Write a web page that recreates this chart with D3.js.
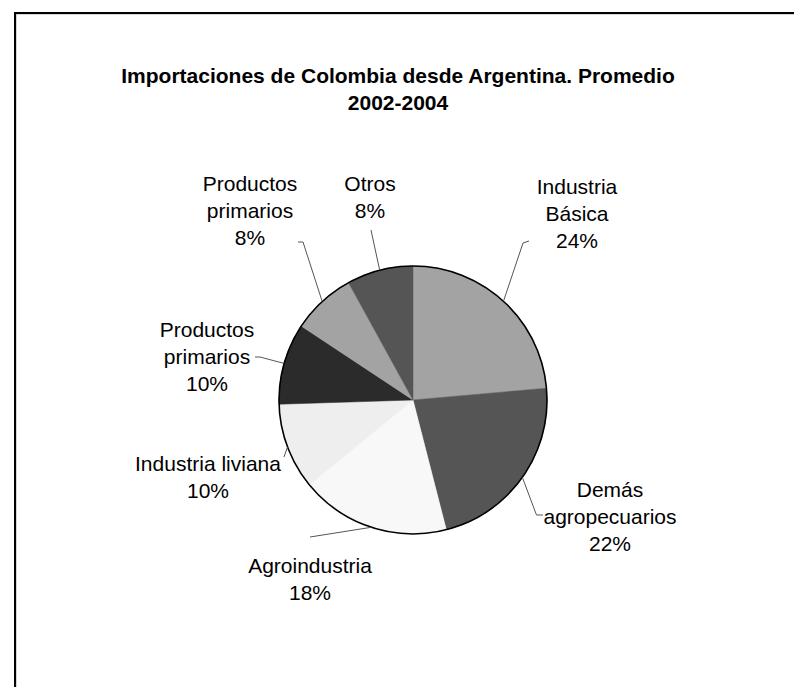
<!DOCTYPE html>
<html><head><meta charset="utf-8">
<script src="https://cdn.jsdelivr.net/npm/d3@7"></script>
<style>body{margin:0;background:#fff}svg{display:block}</style>
</head><body>
<script>
const title = ["Importaciones de Colombia desde Argentina. Promedio", "2002-2004"];
const categories = ["Industria Básica", "Demás agropecuarios", "Agroindustria", "Industria liviana", "Productos primarios", "Productos primarios", "Otros"];
const values = [23.6, 22.4, 18.1, 10.4, 9.8, 7.7, 8.0];

const palette = ["#a3a3a3", "#555555", "#f8f8f8", "#eeeeee", "#2b2b2b", "#a3a3a3", "#555555"];
// label layout: line breaks, anchor (center x, first baseline), leader end points
const labelLayout = [
  {lines: ["Industria", "Básica"], x: 577, y: 194, leader: [[523, 243], [529, 241]]},
  {lines: ["Demás", "agropecuarios"], x: 610, y: 497, leader: [[536.5, 515], [543, 515]]},
  {lines: ["Agroindustria"], x: 310, y: 573, leader: [[310, 537]]},
  {lines: ["Industria liviana"], x: 208, y: 471, leader: [[284, 457]]},
  {lines: ["Productos", "primarios"], x: 207, y: 337, leader: [[260, 357], [255, 357]]},
  {lines: ["Productos", "primarios"], x: 250, y: 191, leader: [[303, 242], [298, 242]]},
  {lines: ["Otros"], x: 370, y: 191, leader: [[371, 230]]}
];

const W = 794, H = 687;
const svg = d3.select("body").append("svg").attr("width", W).attr("height", H);

// frame
svg.append("path").attr("d", `M16,${H+5} L16,14 L${W+5},14`).attr("fill", "none").attr("stroke", "#aaa").attr("stroke-width", 1);
svg.append("path").attr("d", `M15,${H+5} L15,13 L${W+5},13`).attr("fill", "none").attr("stroke", "#000").attr("stroke-width", 2);

// title
svg.append("g").selectAll("text").data(title).join("text")
  .attr("x", 398).attr("y", (d, i) => 83 + i * 27)
  .attr("text-anchor", "middle")
  .attr("font-family", "Liberation Sans, Arial, sans-serif")
  .attr("font-weight", "bold").attr("font-size", 21).attr("fill", "#000")
  .text(d => d);

const cx = 413, cy = 400, r = 134;
const pie = d3.pie().sort(null).value(d => d)(values);
const arc = d3.arc().innerRadius(0).outerRadius(r);
const g = svg.append("g").attr("transform", `translate(${cx},${cy})`);

g.selectAll("path.slice").data(pie).join("path").attr("class", "slice")
  .attr("d", arc).attr("fill", (d, i) => palette[i])
  .attr("stroke", (d, i) => palette[i]).attr("stroke-width", 0.5);
g.append("circle").attr("r", r).attr("fill", "none").attr("stroke", "#000").attr("stroke-width", 1.6);

// leaders
const line = d3.line();
pie.forEach((d, i) => {
  const a = (d.startAngle + d.endAngle) / 2;
  const p0 = [cx + r * Math.sin(a), cy - r * Math.cos(a)];
  svg.append("path").attr("d", line([p0, ...labelLayout[i].leader]))
    .attr("fill", "none").attr("stroke", "#555").attr("stroke-width", 1);
});

// labels
pie.forEach((d, i) => {
  const L = labelLayout[i];
  const lines = [...L.lines, Math.round(values[i]) + "%"];
  svg.append("g").selectAll("text").data(lines).join("text")
    .attr("x", L.x).attr("y", (t, j) => L.y + j * 27)
    .attr("text-anchor", "middle")
    .attr("font-family", "Liberation Sans, Arial, sans-serif")
    .attr("font-size", 21).attr("fill", "#000")
    .text(t => t);
});
</script>
</body></html>
